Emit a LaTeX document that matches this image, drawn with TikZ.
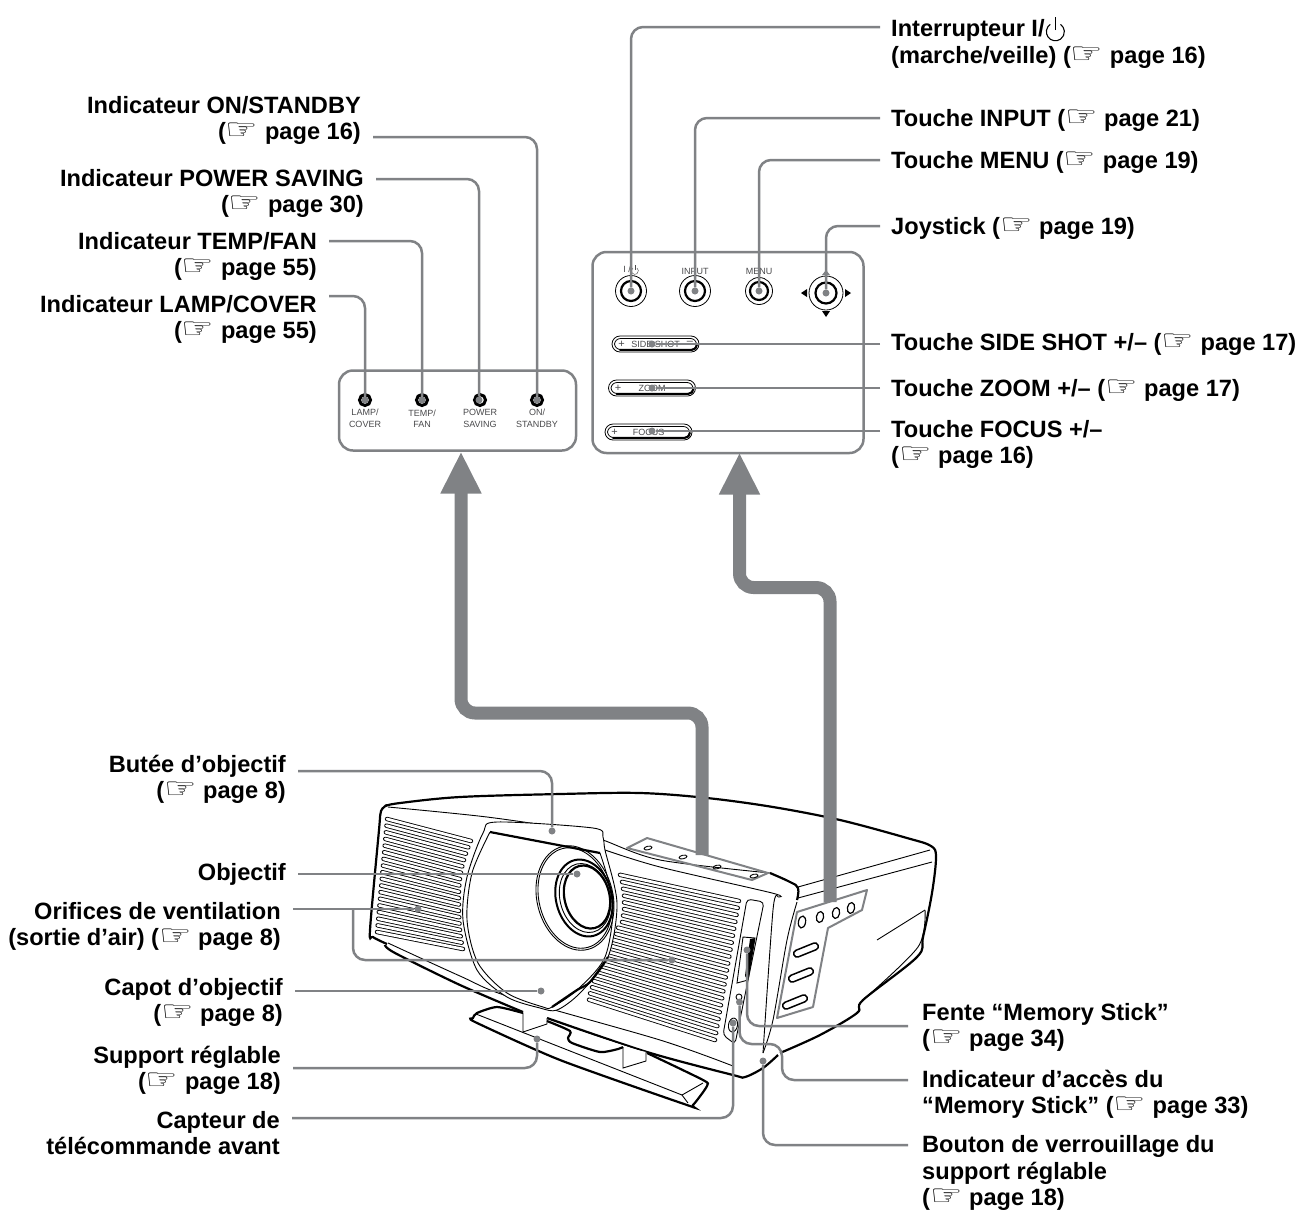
\documentclass[tikz,border=0pt]{standalone}
\usepackage{fontspec}
\setmainfont{Liberation Sans}
\newfontfamily\handfont{DejaVu Sans}
\usepackage{tikz}
\usetikzlibrary{arrows.meta,calc}
\definecolor{leadgray}{HTML}{808285}
\definecolor{pnltext}{HTML}{4A4A4C}
\newcommand{\hand}{\scalebox{1.25}[1]{\normalfont\fontsize{29}{26}\selectfont\handfont\symbol{"261E}}}
\newcommand{\pwrsym}[1]{\tikz[baseline=0pt,x=#1pt,y=#1pt,line width=.12*#1pt]{\draw (0,.55) ++(125:1) arc[start angle=125,end angle=415,radius=1]; \draw (0,.74) -- (0,2.2);}}

\begin{document}
\begin{tikzpicture}[
    x=1pt, y=-1pt,
    lbl/.style={font=\fontsize{23.6}{26.5}\selectfont\bfseries, inner sep=0pt, yshift=-2.3pt},
    lblr/.style={lbl, anchor=east, align=right},
    lbll/.style={lbl, anchor=west, align=left},
    pnl/.style={draw=leadgray, line width=2.5pt, rounded corners=14pt, fill=white},
    pnltxt/.style={font=\fontsize{9}{11.5}\selectfont, text=pnltext, align=center, inner sep=0pt},
    leader/.style={draw=leadgray, line width=2.5pt, rounded corners=12pt},
    dot/.style={circle, fill=leadgray, minimum size=7pt, inner sep=0pt},
    bigarr/.style={draw=leadgray, line width=13pt, rounded corners=14pt, {-Triangle[length=42pt,width=38pt]}},
    lamp/.style={circle, draw=black, line width=3pt, minimum size=11pt, inner sep=0pt},
    btnout/.style={circle, draw=black, line width=.8pt, inner sep=0pt},
    btnin/.style={circle, draw=black, line width=2.2pt, inner sep=0pt},
    slot/.style={line cap=round},
    thn/.style={line width=.9pt},
    thk/.style={line width=2.2pt}
  ]
  \useasboundingbox (0,0) rectangle (1299,1219);

  % upper panels
  \node[pnl, minimum width=237pt, minimum height=80pt] (pnlLamp) at (457.5,410.5) {};
  \node[pnl, minimum width=271pt, minimum height=201pt] (pnlCtrl) at (728,352.5) {};

  \foreach \nm/\cx/\txt in {Lamp/365/{LAMP/\\COVER}, Temp/422/{TEMP/\\FAN}, Power/480/{POWER\\SAVING}, On/537/{ON/\\STANDBY}} {
    \node[lamp] (lamp\nm) at (\cx,400) {};
    \node[pnltxt] at (\cx,418.5) {\txt};
  }

  % buttons
  \node[btnout, minimum size=31pt] (btnPwrO) at (631,291) {};
  \node[btnin, minimum size=20pt] (btnPwr) at (631,291) {};
  \node[btnout, minimum size=31pt] (btnInpO) at (695,291) {};
  \node[btnin, minimum size=20pt] (btnInp) at (695,291) {};
  \node[btnout, minimum size=27pt] (btnMenuO) at (759,291) {};
  \node[btnin, minimum size=18pt] (btnMenu) at (759,291) {};
  \node[btnout, minimum size=34pt] (btnJoyO) at (826,293) {};
  \node[btnin, minimum size=21pt] (btnJoy) at (826,293) {};
  \fill (801,293) -- (807,289) -- (807,297) -- cycle;
  \fill (851,293) -- (845,289) -- (845,297) -- cycle;
  \fill (826,317) -- (822,311) -- (830,311) -- cycle;
  \fill[leadgray] (826,270) -- (822,275) -- (830,275) -- cycle;
  \node[pnltxt] (txtPwr) at (631,270) {I /\pwrsym{3.5}};
  \node[pnltxt] (txtInp) at (695,271) {INPUT};
  \node[pnltxt] (txtMenu) at (759,271) {MENU};

  \foreach \nm/\cx/\cy/\txt in {Side/655.5/344/SIDE SHOT, Zoom/652/388/ZOOM, Focus/648.5/432/FOCUS} {
    \node[draw=black, line width=.8pt, rounded corners=8pt, minimum width=87pt, minimum height=16pt, inner sep=0pt] (bar\nm) at (\cx,\cy) {};
    \node[draw=black, line width=.8pt, rounded corners=6pt, minimum width=82pt, minimum height=11pt, inner sep=0pt] (barin\nm) at (\cx,\cy) {};
    \draw[line width=2pt, line cap=round] ($(barin\nm.south west)+(6,0)$) -- ($(barin\nm.south east)+(-5,0)$) arc[start angle=90,end angle=0,radius=5];
    \node[pnltxt] at (\cx,\cy) {\txt};
    \node[pnltxt, font=\fontsize{11}{11}\selectfont] at ($(\cx,\cy)+(-34,0)$) {+};
  }
  \node[pnltxt, font=\fontsize{11}{11}\selectfont] at (690,343) {–};

  % projector body
  \draw[thk] plot[smooth,tension=.55] coordinates {(385,806) (400,803) (460,797) (560,794) (640,793) (707,798) (773,807) (840,820) (907,838) (931,846) (936,857) (932,893) (923,937) (917,957) (863,1000) (857,1013) (820,1035) (780,1053)};
  \draw[thk] plot[smooth,tension=.5] coordinates {(387,805) (381,811) (379,830) (370,930) (373,937) (387,944)};
  \draw[thk] plot[smooth,tension=.5] coordinates {(385,945) (395,953) (460,985) (523,1012)};
  \draw[thn] plot[smooth,tension=.5] coordinates {(388,943) (460,976) (510,997) (660,1040) (733,1066)};
  \draw[thk] plot[smooth,tension=.5] coordinates {(547,1018) (647,1052) (733,1075) (745,1077) (763,1068) (778,1055)};
  \draw[thn] plot[smooth,tension=.5] coordinates {(388,807) (487,817) (573,830) (603,840) (660,860) (770,873)};
  \draw[thn] plot[smooth,tension=.5] coordinates {(605,850) (660,867) (772,893) (778,897)};
  \draw[thk] plot[smooth,tension=.7] coordinates {(770,873) (790,882) (798,888) (797,900)};
  \draw[thn] plot[smooth,tension=.5] coordinates {(778,897) (773,910) (763,1053)};
  \draw[thn] plot[smooth,tension=.5] coordinates {(797,902) (787,940) (773,1020) (763,1053)};
  \draw[thn] (798,887) -- (930,850);
  \draw[thn] (798,898) -- (932,862);
  \draw[thn] (877,940) -- (925,910);
  \draw[thn] plot[smooth,tension=.5] coordinates {(925,910) (918,947) (863,1000)};

  % left vent
  \foreach \i in {0,...,17} {
    \pgfmathsetmacro{\tt}{\i/17}
    \pgfmathsetmacro{\lx}{387-10*\tt}
    \pgfmathsetmacro{\ly}{819+113*\tt}
    \pgfmathsetmacro{\ry}{841+108*\tt}
    \pgfmathsetmacro{\rx}{459+12*(max(0,1-2*\tt))^2+4*(max(0,2*\tt-1))^3}
    \draw[slot, line width=4.4pt] (\lx,\ly) -- (\rx,\ry);
    \draw[slot, line width=2.7pt, white] (\lx,\ly) -- (\rx,\ry);
  }
  % right vent
  \foreach \lx [count=\i from 0] in {620,622,623,624,624,624,623,622,618,616,613,610,605,602,600,598,596,594,592,590,589} {
    \pgfmathsetmacro{\tt}{\i/20}
    \pgfmathsetmacro{\rx}{739-24*\tt}
    \pgfmathsetmacro{\ry}{901+139*\tt}
    \pgfmathsetmacro{\ly}{\ry-(0.22+0.10*\tt)*(\rx-\lx)}
    \draw[slot, line width=4.4pt] (\lx,\ly) -- (\rx,\ry);
    \draw[slot, line width=2.7pt, white] (\lx,\ly) -- (\rx,\ry);
  }

  % lens cover
  \draw[thn, fill=white] plot[smooth cycle,tension=.5] coordinates {(497,822) (593,828) (603,837) (605,850) (617,903) (608,957) (580,993) (557,1010) (540,1008) (507,997) (477,970) (463,920) (467,877) (483,833)};
  \draw[thn] plot[smooth,tension=.5] coordinates {(600,853) (613,903) (605,957) (577,990) (552,1007) (543,1007) (507,993) (478,963) (467,920) (472,873) (490,832)};
  \draw[thk] (490,832) -- (600,853);
  \draw[thk] plot[smooth,tension=.5] coordinates {(608,957) (590,982) (577,990) (552,1007)};
  \foreach \rxx/\ryy/\lw in {38/53/.9, 36/51/.9} {
    \draw[line width=\lw pt, rotate around={14:(575,898)}] (575,898) ellipse[x radius=\rxx, y radius=\ryy];
  }
  \draw[line width=2pt, rotate around={14:(584,898)}] (584,898) ellipse[x radius=28, y radius=39];
  \draw[thn, rotate around={14:(585,898)}] (585,898) ellipse[x radius=25, y radius=35];
  \draw[thk, rotate around={14:(587,897)}] (587,897) ellipse[x radius=22.5, y radius=32];

  % stand
  \draw[thk, fill=white] plot[smooth,tension=.4] coordinates {(523,1013) (497,1007) (477,1013) (473,1018) (475,1022) (560,1060) (687,1105) (693,1105) (707,1086) (703,1080) (647,1053)};
  \draw[thn] (476,1014) -- (682,1095);
  \draw[thn] (682,1095) -- (703,1083);
  \draw[thn] (682,1095) -- (688,1103);
  \draw[thn, fill=white] (523,1013) -- (523,1032) -- (547,1024) -- (547,1018);
  \draw[thn, fill=white] (623,1047) -- (623,1068) -- (646,1061) -- (646,1052);
  \draw[thk] plot[smooth,tension=.4] coordinates {(547,1021) (570,1031) (568,1038) (572,1043) (600,1052) (618,1049) (623,1047)};

  % top plate
  \draw[leadgray, line width=2pt, line join=round] (627,848) -- (647,838) -- (768,873) -- (752,880) -- cycle;
  \foreach \cx/\cy in {648/848, 683/857, 717/867, 754/876} {
    \draw[thn, rotate around={12:(\cx,\cy)}] (\cx,\cy) ellipse[x radius=4, y radius=1.8];
  }

  % side plate
  \draw[leadgray, line width=2pt, line join=round] (797,912) -- (867,890) -- (862,910) -- (828,928) -- (813,1007) -- (777,1018) -- cycle;
  \foreach \cx/\cy/\hh in {802/922/6, 820/917/5.5, 836/913/5.5, 851/908/5.5} {
    \draw[line width=1.2pt, rotate around={-10:(\cx,\cy)}] (\cx,\cy) ellipse[x radius=3.6, y radius=\hh];
  }
  \foreach \cx/\cy in {806/950, 801/975, 795/1002} {
    \draw[line width=1.5pt, rounded corners=3.5pt, rotate around={22:(\cx,\cy)}] ($(\cx,\cy)+(-13,-3.5)$) rectangle ($(\cx,\cy)+(13,3.5)$);
  }

  % memory stick strip
  \draw[thn, rounded corners=4pt] (747,899) -- (764,902) -- (735,1044) -- (723,1035) -- cycle;
  \draw[thn, fill=white] (743,937) -- (755,938) -- (748,980) -- (737,983) -- cycle;
  \fill (750,939) -- (755,938) -- (748,980) -- (745,976) -- cycle;
  \draw[thn] (739,997) circle[radius=3];
  \draw[thn, rotate around={-10:(733,1025)}] (733,1025) ellipse[x radius=4.5, y radius=7];

  % big arrows
  \coordinate (slabTop) at (702,855);
  \coordinate (slabSide) at (830,902);
  \draw[bigarr] (slabTop) |- (461,713) -- (461,451.5);
  \draw[bigarr] (slabSide) |- (739.5,587.5) -- (739.5,452.5);

  % upper left labels
  \node[lblr] (lblOn) at (361,118) {Indicateur ON/STANDBY\\(\hand\ page 16)};
  \node[lblr] (lblPower) at (364,191) {Indicateur POWER SAVING\\(\hand\ page 30)};
  \node[lblr] (lblTemp) at (317,254) {Indicateur TEMP/FAN\\(\hand\ page 55)};
  \node[lblr] (lblLamp) at (317,317) {Indicateur LAMP/COVER\\(\hand\ page 55)};

  % upper right labels
  \node[lbll] (lblPwr) at (891,40) {Interrupteur I/\pwrsym{9}\\(marche/veille) (\hand\ page 16)};
  \node[lbll] (lblInp) at (891,118) {Touche INPUT (\hand\ page 21)};
  \node[lbll] (lblMenu) at (891,160) {Touche MENU (\hand\ page 19)};
  \node[lbll] (lblJoy) at (891,226) {Joystick (\hand\ page 19)};
  \node[lbll] (lblSide) at (891,342) {Touche SIDE SHOT +/– (\hand\ page 17)};
  \node[lbll] (lblZoom) at (891,388) {Touche ZOOM +/– (\hand\ page 17)};
  \node[lbll] (lblFocus) at (891,442) {Touche FOCUS +/–\\(\hand\ page 16)};

  % lower left labels
  \node[lblr] (lblStop) at (286,777) {Butée d’objectif\\(\hand\ page 8)};
  \node[lblr] (lblLens) at (286,872) {Objectif};
  \node[lblr] (lblVent) at (281,924) {Orifices de ventilation\\(sortie d’air) (\hand\ page 8)};
  \node[lblr] (lblCap) at (283,1000) {Capot d’objectif\\(\hand\ page 8)};
  \node[lblr] (lblFoot) at (281,1068) {Support réglable\\(\hand\ page 18)};
  \node[lblr, yshift=1.3pt] (lblRemote) at (280,1132) {Capteur de\\télécommande avant};

  % lower right labels
  \node[lbll] (lblSlot) at (922,1025) {Fente “Memory Stick”\\(\hand\ page 34)};
  \node[lbll] (lblAccess) at (922,1092) {Indicateur d’accès du\\“Memory Stick” (\hand\ page 33)};
  \node[lbll] (lblLock) at (922,1171) {Bouton de verrouillage du\\support réglable\\(\hand\ page 18)};

  % leader ends
  \node[dot] (dotOn) at (537,400) {};
  \node[dot] (dotPower) at (479,400) {};
  \node[dot] (dotTemp) at (422,400) {};
  \node[dot] (dotLamp) at (365,400) {};
  \node[dot] (dotPwr) at (631,291) {};
  \node[dot] (dotInp) at (695,291) {};
  \node[dot] (dotMenu) at (759,291) {};
  \node[dot] (dotJoy) at (826,293) {};
  \node[dot] (dotSide) at (652,344) {};
  \node[dot] (dotZoom) at (652,388) {};
  \node[dot] (dotFocus) at (652,431) {};
  \node[dot] (dotStop) at (552,831) {};
  \node[dot] (dotLens) at (577,874) {};
  \node[dot] (dotVentL) at (418,909) {};
  \node[dot] (dotVentR) at (672,960) {};
  \node[dot] (dotCap) at (541,991) {};
  \node[dot] (dotFoot) at (537,1039) {};
  \node[dot] (dotRemote) at (733,1023) {};
  \node[dot] (dotSlot) at (747,950) {};
  \node[dot] (dotAccess) at (739.5,1002) {};
  \node[dot] (dotLock) at (763,1061) {};

  \coordinate (onStart) at (373,137);
  \coordinate (powerStart) at (376,179);
  \coordinate (tempStart) at (329,241);
  \coordinate (lampStart) at (329,296);
  \draw[leader] (onStart) -| (dotOn);
  \draw[leader] (powerStart) -| (dotPower);
  \draw[leader] (tempStart) -| (dotTemp);
  \draw[leader] (lampStart) -| (dotLamp);

  \coordinate (pwrStart) at (880,27);
  \coordinate (inpStart) at (880,118);
  \coordinate (menuStart) at (880,160);
  \coordinate (joyStart) at (880,226);
  \draw[leader] (pwrStart) -| (dotPwr);
  \draw[leader] (inpStart) -| (dotInp);
  \draw[leader] (menuStart) -| (dotMenu);
  \draw[leader] (joyStart) -| (dotJoy);
  \coordinate (sideStart) at (880,344);
  \coordinate (zoomStart) at (880,388);
  \coordinate (focusStart) at (880,431);
  \draw[leader] (sideStart) -- (dotSide);
  \draw[leader] (zoomStart) -- (dotZoom);
  \draw[leader] (focusStart) -- (dotFocus);

  \coordinate (stopStart) at (298,771);
  \coordinate (lensStart) at (298,874);
  \coordinate (ventStart) at (293,909);
  \coordinate (ventTurn) at (353,909);
  \coordinate (capStart) at (295,991);
  \coordinate (footStart) at (293,1068);
  \coordinate (remoteStart) at (292,1118);
  \draw[leader] (stopStart) -| (dotStop);
  \draw[leader] (lensStart) -- (dotLens);
  \draw[leader] (ventStart) -- (dotVentL);
  \draw[leader] (ventTurn) |- (dotVentR);
  \draw[leader] (capStart) -- (dotCap);
  \draw[leader] (footStart) -| (dotFoot);
  \draw[leader] (remoteStart) -| (dotRemote);

  \coordinate (slotStart) at (908,1026);
  \coordinate (accessStart) at (908,1080);
  \coordinate (lockStart) at (908,1145);
  \draw[leader] (slotStart) -| (dotSlot);
  \draw[leader] (accessStart) -- (782,1080) -- (782,1044) -- (739.5,1044) -- (dotAccess);
  \draw[leader] (lockStart) -| (dotLock);
\end{tikzpicture}
\end{document}
